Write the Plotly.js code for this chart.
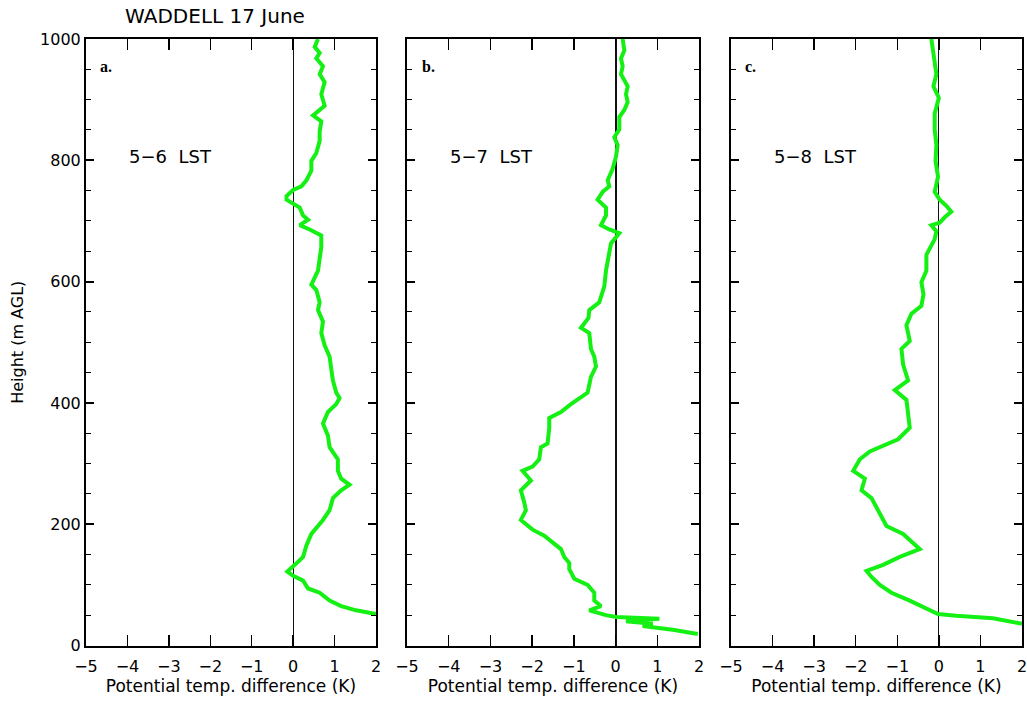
<!DOCTYPE html>
<html>
<head>
<meta charset="utf-8">
<script src="https://cdn.plot.ly/plotly-3.0.1.min.js"></script>
<style>html,body{margin:0;padding:0;background:#fff;}</style>
</head>
<body>
<div id="chart" style="width:1027px;height:702px;"></div>
<script>
// ---- Data ----
const chartTitle = "WADDELL 17 June";
const panelLetters = ["a.", "b.", "c."];
const periodLabels = ["5\u22126  LST", "5\u22127  LST", "5\u22128  LST"];
const xTickVals = [-5, -4, -3, -2, -1, 0, 1, 2];
const yTickVals = [0, 200, 400, 600, 800, 1000];
const xTitle = "Potential temp. difference (K)";
const yTitle = "Height (m AGL)";

// Panel a: 5-6 LST  (height in m AGL, potential temperature difference in K)
const heightA = [1000, 987, 977, 968, 955, 942, 929, 909, 890, 874, 864, 848, 832, 812, 799, 783, 767, 757, 751, 741, 735, 728, 722, 709, 702, 693, 686, 676, 657, 638, 618, 595, 586, 566, 553, 534, 515, 495, 476, 456, 437, 417, 408, 398, 385, 366, 346, 327, 307, 288, 275, 265, 256, 243, 223, 207, 197, 184, 165, 146, 133, 122, 115, 107, 94, 87, 74, 65, 58, 52];
const tempA   = [0.60, 0.52, 0.64, 0.56, 0.72, 0.64, 0.76, 0.68, 0.76, 0.48, 0.68, 0.64, 0.64, 0.56, 0.44, 0.44, 0.32, 0.20, 0.00, -0.16, -0.16, 0.04, 0.16, 0.24, 0.36, 0.16, 0.40, 0.68, 0.68, 0.64, 0.60, 0.44, 0.56, 0.64, 0.60, 0.72, 0.68, 0.76, 0.88, 0.92, 0.96, 1.04, 1.12, 1.04, 0.84, 0.72, 0.84, 0.88, 1.08, 1.08, 1.16, 1.36, 1.16, 0.96, 0.88, 0.72, 0.60, 0.44, 0.32, 0.24, 0.04, -0.14, 0.00, 0.24, 0.36, 0.64, 0.88, 1.16, 1.52, 2.00];

// Panel b: 5-7 LST
const heightB = [1000, 981, 968, 955, 942, 922, 909, 896, 883, 871, 851, 838, 825, 806, 786, 767, 757, 748, 735, 722, 709, 693, 686, 680, 663, 638, 618, 592, 566, 553, 540, 524, 515, 489, 476, 460, 443, 417, 408, 398, 385, 375, 359, 333, 327, 307, 295, 288, 272, 256, 236, 223, 207, 191, 181, 171, 159, 146, 136, 126, 110, 100, 87, 74, 65, 58, 50, 47, 44, 40, 36, 32, 26, 19];
const tempB   = [0.17, 0.21, 0.13, 0.17, 0.13, 0.29, 0.25, 0.29, 0.21, 0.09, 0.09, -0.03, 0.05, 0.01, -0.07, -0.19, -0.15, -0.31, -0.43, -0.23, -0.23, -0.35, -0.15, 0.09, -0.11, -0.19, -0.23, -0.27, -0.39, -0.63, -0.65, -0.83, -0.63, -0.59, -0.51, -0.47, -0.59, -0.67, -0.87, -1.07, -1.31, -1.59, -1.59, -1.63, -1.79, -1.83, -1.99, -2.23, -2.03, -2.27, -2.19, -2.15, -2.27, -1.99, -1.71, -1.51, -1.31, -1.23, -1.11, -1.11, -0.99, -0.67, -0.51, -0.51, -0.35, -0.63, -0.23, 0.01, 1.05, 0.25, 0.89, 0.65, 1.37, 1.97];

// Panel c: 5-8 LST
const heightC = [1000, 977, 955, 942, 922, 903, 877, 851, 825, 799, 773, 748, 735, 725, 715, 706, 697, 693, 683, 670, 644, 618, 599, 579, 560, 547, 528, 502, 489, 463, 437, 421, 405, 385, 359, 340, 330, 320, 307, 288, 275, 256, 243, 223, 197, 184, 165, 159, 146, 133, 123, 113, 100, 87, 74, 61, 52, 49, 45, 36];
const tempC   = [-0.18, -0.14, -0.10, -0.06, -0.13, 0.00, -0.10, -0.10, -0.06, -0.08, -0.02, -0.10, 0.02, 0.18, 0.30, 0.14, 0.02, -0.18, -0.06, -0.10, -0.30, -0.30, -0.42, -0.37, -0.42, -0.66, -0.78, -0.70, -0.90, -0.86, -0.74, -1.06, -0.78, -0.74, -0.70, -0.98, -1.34, -1.66, -1.90, -2.06, -1.78, -1.86, -1.62, -1.46, -1.26, -0.86, -0.54, -0.46, -0.94, -1.34, -1.74, -1.62, -1.42, -1.14, -0.70, -0.30, -0.02, 0.42, 1.30, 2.00];

// ---- Build chart ----
const greenLine = {color: "rgb(20,240,20)", width: 4};
const fontMain = "DejaVu Sans, Liberation Sans, sans-serif";
const traces = [
  {x: tempA, y: heightA, xaxis: "x", yaxis: "y", mode: "lines", line: greenLine, showlegend: false, hoverinfo: "skip"},
  {x: tempB, y: heightB, xaxis: "x2", yaxis: "y2", mode: "lines", line: greenLine, showlegend: false, hoverinfo: "skip"},
  {x: tempC, y: heightC, xaxis: "x3", yaxis: "y3", mode: "lines", line: greenLine, showlegend: false, hoverinfo: "skip"}
];

const W = 1027, H = 702;
const xDomains = [[86 / W, 376 / W], [407 / W, 699 / W], [731 / W, 1022 / W]];
const yDomain = [(H - 645.5) / H, (H - 39) / H];
const zeroWidths = [1, 2, 1];

function xAxis(i) {
  return {
    domain: xDomains[i], range: [-5, 2], anchor: i === 0 ? "y" : "y" + (i + 1),
    tickmode: "array", tickvals: xTickVals,
    ticks: "inside", ticklen: 11, tickwidth: 1.5, tickcolor: "#000",
    showline: true, linecolor: "#000", linewidth: 2, mirror: "ticks",
    showgrid: false, zeroline: true, zerolinecolor: "#111", zerolinewidth: zeroWidths[i],
    tickfont: {family: fontMain, size: 16, color: "#000"},
    ticklabelstandoff: 5, ticklabeloverflow: "allow",
    title: {text: xTitle, font: {family: fontMain, size: 17, color: "#000"}, standoff: 3},
    fixedrange: true
  };
}
function yAxis(i) {
  return {
    domain: yDomain, range: [0, 1000], anchor: i === 0 ? "x" : "x" + (i + 1),
    tickmode: "array", tickvals: yTickVals,
    ticks: "inside", ticklen: 8, tickwidth: 2, tickcolor: "#000",
    minor: {dtick: 50, ticks: "inside", ticklen: 5, tickwidth: 1, tickcolor: "#000", showgrid: false},
    showline: true, linecolor: "#000", linewidth: 2, mirror: "ticks",
    showgrid: false, zeroline: false,
    showticklabels: i === 0, ticklabeloverflow: "allow",
    tickfont: {family: fontMain, size: 16, color: "#000"},
    title: i === 0 ? {text: yTitle, font: {family: fontMain, size: 16, color: "#000"}, standoff: 12} : {text: ""},
    fixedrange: true
  };
}

const annotations = [];
for (let i = 0; i < 3; i++) {
  const xr = i === 0 ? "x" : "x" + (i + 1);
  const yr = i === 0 ? "y" : "y" + (i + 1);
  annotations.push({xref: xr, yref: yr, x: -4.7, y: 955, xanchor: "left", yanchor: "middle", showarrow: false,
    text: "<b>" + panelLetters[i] + "</b>", font: {family: "Liberation Serif, DejaVu Serif, serif", size: 16, color: "#000"}});
  annotations.push({xref: xr, yref: yr, x: -4.02, y: 807, xanchor: "left", yanchor: "middle", showarrow: false,
    text: periodLabels[i], font: {family: fontMain, size: 18, color: "#000"}});
}

const layout = {
  width: W, height: H,
  margin: {l: 0, r: 0, t: 0, b: 0},
  paper_bgcolor: "#fff", plot_bgcolor: "#fff",
  title: {text: chartTitle, x: 215 / W, xanchor: "center", xref: "paper", y: 1 - 16 / H, yanchor: "middle", yref: "container",
    font: {family: fontMain, size: 20, color: "#000"}},
  xaxis: xAxis(0), xaxis2: xAxis(1), xaxis3: xAxis(2),
  yaxis: yAxis(0), yaxis2: yAxis(1), yaxis3: yAxis(2),
  annotations: annotations,
  showlegend: false
};

Plotly.newPlot("chart", traces, layout, {displayModeBar: false, staticPlot: true});
</script>
</body>
</html>
